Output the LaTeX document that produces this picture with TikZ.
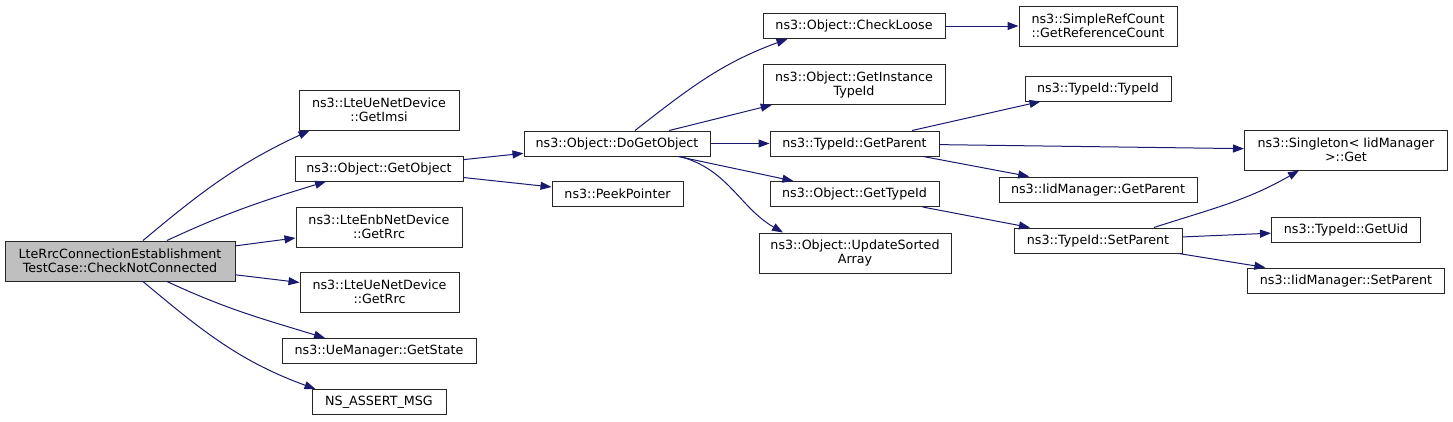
\documentclass[tikz,border=0pt]{standalone}
\usepackage{fontspec}
\setmainfont{DejaVu Sans}
\definecolor{CGNavy}{HTML}{191970}
\definecolor{CGGray}{HTML}{BFBFBF}
\usetikzlibrary{positioning,arrows.meta}

\begin{document}
\begin{tikzpicture}[x=1pt, y=1pt, font=\fontsize{12.7}{14}\selectfont,
    fn/.style={draw=black!85, line width=1pt, fill=white, minimum height=25pt, inner sep=0pt, align=center},
    fntwo/.style={fn, minimum height=40pt},
    call/.style={draw=CGNavy, line width=1pt, -{Triangle[length=11pt,width=8pt]}}]
  \useasboundingbox (0,0) rectangle (1453,-421);
  \node[fntwo, fill=CGGray, minimum width=230pt] (main) at (120,-261) {LteRrcConnectionEstablishment\\TestCase::CheckNotConnected};
  \node[fntwo, minimum width=160pt] (imsi) at (379,-110) {ns3::LteUeNetDevice\\::GetImsi};
  \node[fn, minimum width=168pt] (getobj) at (379,-168.5) {ns3::Object::GetObject};
  \node[fntwo, minimum width=166pt] (enbrrc) at (379,-227) {ns3::LteEnbNetDevice\\::GetRrc};
  \node[fntwo, minimum width=159pt] (uerrc) at (379.5,-292) {ns3::LteUeNetDevice\\::GetRrc};
  \node[fn, minimum width=194pt] (state) at (379,-351) {ns3::UeManager::GetState};
  \node[fn, minimum width=134pt] (assert) at (379,-402) {NS\_ASSERT\_MSG};
  \node[fn, minimum width=186pt] (dogetobj) at (617,-143.5) {ns3::Object::DoGetObject};
  \node[fn, minimum width=131pt] (peek) at (617.5,-194) {ns3::PeekPointer};
  \node[fn, minimum width=182pt] (checkloose) at (854,-26) {ns3::Object::CheckLoose};
  \node[fntwo, minimum width=182pt] (instance) at (854,-84.5) {ns3::Object::GetInstance\\TypeId};
  \node[fn, minimum width=169pt] (getparent) at (854.5,-143.5) {ns3::TypeId::GetParent};
  \node[fn, minimum width=169pt] (gettypeid) at (854.5,-194) {ns3::Object::GetTypeId};
  \node[fntwo, minimum width=192pt] (sorted) at (855,-253) {ns3::Object::UpdateSorted\\Array};
  \node[fntwo, minimum width=158pt] (refcount) at (1098,-26) {ns3::SimpleRefCount\\::GetReferenceCount};
  \node[fn, minimum width=146pt] (typeid) at (1098,-88.5) {ns3::TypeId::TypeId};
  \node[fn, minimum width=198pt] (iidgetparent) at (1098,-189.5) {ns3::IidManager::GetParent};
  \node[fn, minimum width=168pt] (setparent) at (1098,-240.5) {ns3::TypeId::SetParent};
  \node[fntwo, minimum width=203pt] (singleton) at (1346,-150) {ns3::Singleton< IidManager\\>::Get};
  \node[fn, minimum width=149pt] (getuid) at (1346,-230) {ns3::TypeId::GetUid};
  \node[fn, minimum width=197pt] (iidsetparent) at (1346,-280.5) {ns3::IidManager::SetParent};

  \draw[call] ([xshift=23pt]main.north) to[out=40, in=205] ([xshift=11pt]imsi.south west);
  \draw[call] ([xshift=47pt]main.north) to[out=25, in=197] ([xshift=-53pt]getobj.south);
  \draw[call] (main) -- (enbrrc);
  \draw[call] (main) -- (uerrc);
  \draw[call] ([xshift=47pt]main.south) to[out=-25, in=163] ([xshift=-54pt]state.north);
  \draw[call] ([xshift=23pt]main.south) to[out=-40, in=160] ([xshift=4pt]assert.north west);
  \draw[call] (getobj) -- (dogetobj);
  \draw[call] (getobj) -- (peek);
  \draw[call] ([xshift=18pt]dogetobj.north) to[out=38, in=200] ([xshift=25pt]checkloose.south west);
  \draw[call] (dogetobj) -- (instance);
  \draw[call] (dogetobj) -- (getparent);
  \draw[call] (dogetobj) -- (gettypeid);
  \draw[call] ([xshift=63pt]dogetobj.south) to[out=-15, in=150] ([xshift=-72pt]sorted.north);
  \draw[call] (checkloose) -- (refcount);
  \draw[call] (getparent) -- (typeid);
  \draw[call] (getparent) -- (singleton);
  \draw[call] (getparent) -- (iidgetparent);
  \draw[call] (gettypeid) -- (setparent);
  \draw[call] ([xshift=56pt]setparent.north) to[out=18, in=210] ([xshift=-47pt]singleton.south);
  \draw[call] (setparent) -- (getuid);
  \draw[call] (setparent) -- (iidsetparent);
\end{tikzpicture}
\end{document}
